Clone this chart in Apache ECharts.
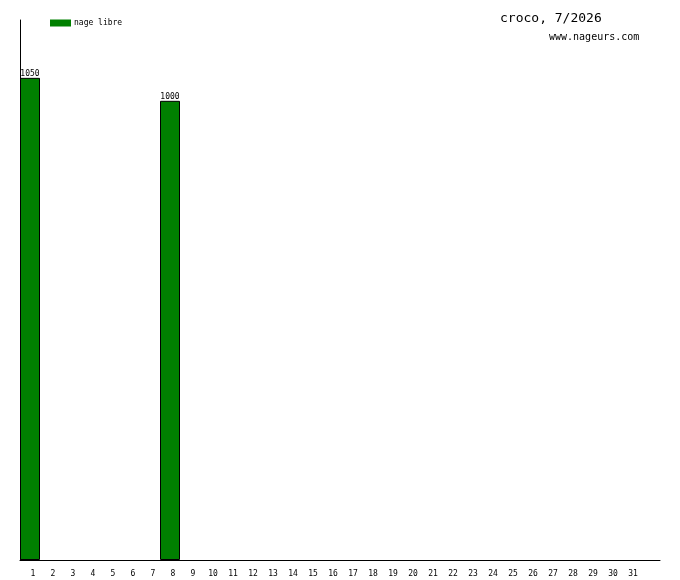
<!DOCTYPE html>
<html><head><meta charset="utf-8">
<script src="https://cdn.jsdelivr.net/npm/echarts@6/dist/echarts.min.js"></script>
<style>html,body{margin:0;padding:0;background:#fff}#c{width:680px;height:580px}</style>
</head><body><div id="c"></div>
<script>
var days = ['1','2','3','4','5','6','7','8','9','10','11','12','13','14','15','16','17','18','19','20','21','22','23','24','25','26','27','28','29','30','31',''];
var nageLibre = [1050,null,null,null,null,null,null,1000,null,null,null,null,null,null,null,null,null,null,null,null,null,null,null,null,null,null,null,null,null,null,null,null];
var seriesName = 'nage libre';
var titleText = 'croco, 7/2026';
var subText = 'www.nageurs.com';
var mono = 'DejaVu Sans Mono';
var chart = echarts.init(document.getElementById('c'));
chart.setOption({
  animation: false,
  backgroundColor: '#fff',
  title: [
    {text: titleText, left: 500, top: 12, padding: 0, textStyle: {fontFamily: mono, fontSize: 13, fontWeight: 'normal', color: '#000'}},
    {text: subText, left: 549, top: 32, padding: 0, textStyle: {fontFamily: mono, fontSize: 10, fontWeight: 'normal', color: '#000'}}
  ],
  legend: {
    left: 50, top: 19, padding: 0, itemWidth: 21, itemHeight: 7, itemGap: 4,
    icon: 'rect',
    itemStyle: {borderWidth: 0},
    textStyle: {fontFamily: mono, fontSize: 8, color: '#000', padding: [0,0,0,-2]},
    data: [seriesName]
  },
  grid: {left: 20, top: 20, width: 640, height: 540, containLabel: false},
  xAxis: {
    type: 'category', data: days, boundaryGap: true,
    axisLine: {lineStyle: {color: '#000', width: 1}},
    axisTick: {show: false},
    axisLabel: {fontFamily: mono, fontSize: 8, color: '#000', margin: 10, interval: 0, padding: [0,0,0,6]}
  },
  yAxis: {
    type: 'value', min: 0, max: 1176,
    axisLine: {show: true, lineStyle: {color: '#000', width: 1}},
    axisTick: {show: false}, axisLabel: {show: false}, splitLine: {show: false}
  },
  series: [{
    name: seriesName, type: 'bar', data: nageLibre, barWidth: 20, barGap: '0%',
    itemStyle: {color: '#008000', borderColor: '#000', borderWidth: 1},
    label: {show: true, position: 'top', distance: 0, fontFamily: mono, fontSize: 8, color: '#000'}
  }]
});
</script></body></html>
